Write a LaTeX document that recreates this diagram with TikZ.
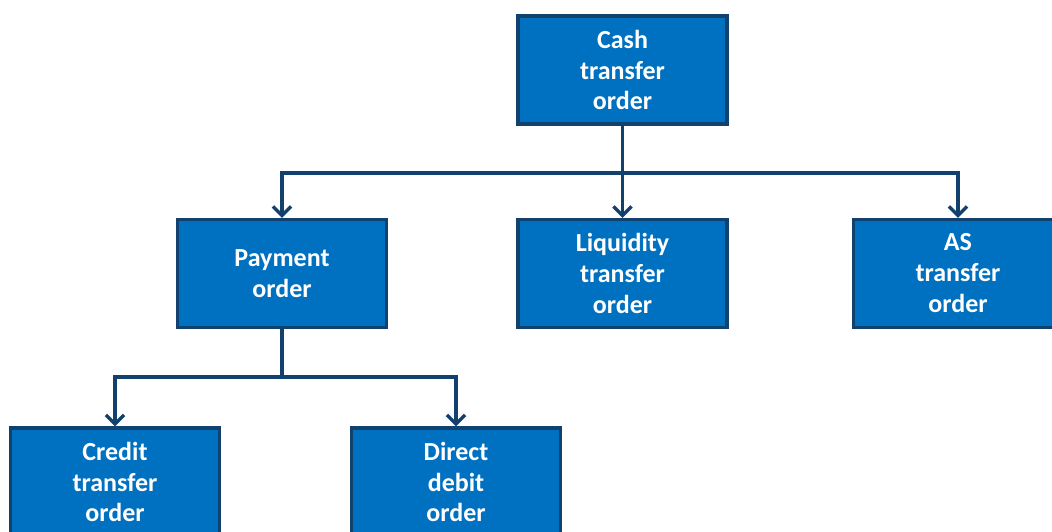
\documentclass[tikz,border=0pt]{standalone}
\usepackage{fontspec}
\setmainfont{Carlito}
\usetikzlibrary{arrows.meta}
\definecolor{boxblue}{RGB}{0,112,192}
\definecolor{edgeblue}{RGB}{18,65,110}
\begin{document}
\begin{tikzpicture}[x=0.025cm, y=-0.025cm,
    order/.style={draw=edgeblue, fill=boxblue, line width=2.2pt,
      minimum width=5.225cm, minimum height=2.7cm, text=white,
      font=\fontsize{18.5}{22}\selectfont\bfseries, align=center, inner sep=0pt},
    link/.style={draw=edgeblue, line width=2.8pt},
    linkarrow/.style={link, -{Straight Barb[length=6.5pt, width=13pt, line width=2.4pt]}}]
      % frame of the reference
      \useasboundingbox (0,0) rectangle (1052,532);
      \clip (0,0) rectangle (1052,532);

      % top level
      \node (cash) at (622.5,70) [order] {Cash\\transfer\\order};

      % second level
      \node (payment) at (282,273.5) [order] {Payment\\order};
      \node (liquidity) at (622.5,273.5) [order] {Liquidity\\transfer\\order};
      \node (as) at (958,273.5) [order] {AS\\transfer\\order};

      % third level
      \node (credit) at (115,482) [order] {Credit\\transfer\\order};
      \node (debit) at (456,482) [order] {Direct\\debit\\order};

      % branches from cash transfer order
      \coordinate (split1) at (622.5,173);
      \draw[link] (cash.south) -- (split1);
      \draw[linkarrow] (split1) -| (payment.north);
      \draw[linkarrow] (split1) -- (liquidity.north);
      \draw[linkarrow] (split1) -| (as.north);

      % branches from payment order
      \coordinate (split2) at (282,377);
      \draw[link] (payment.south) -- (split2);
      \draw[linkarrow] (split2) -| (credit.north);
      \draw[linkarrow] (split2) -| (debit.north);
    \end{tikzpicture}
\end{document}
